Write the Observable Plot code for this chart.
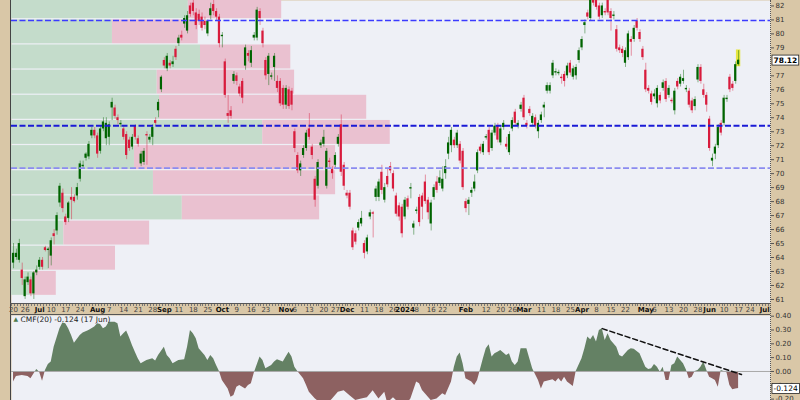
<!DOCTYPE html>
<html><head><meta charset="utf-8">
<script src="https://cdn.jsdelivr.net/npm/d3@7"></script>
<script src="https://cdn.jsdelivr.net/npm/@observablehq/plot@0.6"></script>
<style>
html,body{margin:0;padding:0;background:#fff;}
#chart{position:relative;width:800px;height:400px;background:#d9c7a7;overflow:hidden;font-family:"DejaVu Sans",sans-serif;}
#chart svg{position:absolute;left:0;overflow:visible;max-width:none;}
.deco{position:absolute;}
</style></head><body><div id="chart"></div>
<script>
// ---------- DATA ----------
const holidays = ["2023-07-04","2023-09-04","2023-11-23","2023-12-25","2024-01-01","2024-01-15","2024-02-19","2024-03-29","2024-05-27","2024-06-19","2024-07-04"];
const firstDay = "2023-06-20";
const lastCalendarDay = "2024-07-12";

const opens = [
63.6,64.0,63.8,63.1,61.2,62.2,62.4,61.4,62.9,63.3,
63.8,64.7,64.5,64.1,65.7,65.9,67.9,68.6,66.9,66.8,
68.3,68.3,68.4,69.6,70.5,71.1,71.2,72.7,73.1,72.7,
71.6,73.2,72.5,72.6,74.7,74.7,74.0,73.5,73.2,72.8,
72.4,71.9,73.4,72.5,70.7,70.8,72.8,72.4,72.6,73.8,
74.5,76.0,78.1,77.5,77.9,77.8,78.9,79.3,79.9,80.7,
80.2,82.0,82.2,81.5,81.4,81.2,80.9,80.0,81.3,82.1,
81.6,81.2,79.8,78.0,74.3,74.5,76.6,77.0,76.2,76.6,
77.7,78.6,77.9,79.7,79.7,81.6,80.2,78.1,77.1,76.9,
77.6,76.6,76.6,76.1,74.9,76.0,75.9,73.0,71.3,70.2,
71.3,71.8,73.2,71.9,69.6,69.1,72.0,72.1,69.1,70.9,
70.3,70.6,72.1,73.5,70.6,68.6,68.6,65.9,65.7,66.1,
66.4,65.0,64.4,66.9,67.2,68.3,68.3,70.1,68.1,69.8,
70.5,70.0,68.4,67.7,67.6,66.9,68.2,68.9,66.1,67.3,
68.3,68.4,69.4,68.1,66.4,68.3,69.4,69.3,68.9,70.0,
71.4,72.0,72.4,72.0,72.1,71.6,68.0,67.8,68.6,68.9,
70.2,71.9,71.5,72.55,73.1,71.8,72.9,73.4,72.2,73.3,
72.1,71.5,73.2,74.4,73.4,74.6,75.4,73.6,74.6,73.6,
74.0,73.0,73.8,74.7,75.9,75.9,77.0,77.2,77.15,76.9,
77.1,77.0,77.9,76.9,77.0,78.1,79.0,80.6,81.5,81.1,
82.4,82.4,82.0,81.3,81.6,82.4,81.6,81.25,80.3,79.0,
78.9,77.9,78.3,79.6,79.6,80.9,80.1,78.9,77.4,76.1,
75.7,75.5,75.0,75.6,76.1,76.6,75.6,75.25,74.5,76.6,
76.4,76.6,76.0,75.9,75.2,74.8,76.7,77.6,76.0,75.6,
73.9,70.9,71.4,72.0,73.6,73.6,75.3,76.9,76.4,76.6,77.8];

const highs = [
65.0,64.6,65.3,63.6,62.6,62.9,62.6,63.0,63.4,64.0,
64.0,64.8,64.7,65.4,66.0,67.2,69.3,68.9,67.1,68.0,
69.0,68.5,69.3,70.9,70.9,71.5,72.3,73.3,73.3,72.9,
73.4,74.0,74.0,73.7,75.4,74.9,74.2,73.8,73.4,73.0,
72.6,72.8,73.5,72.7,71.6,71.8,73.0,72.8,73.5,74.0,
75.3,77.0,78.3,78.6,78.1,78.4,79.1,79.9,80.2,81.3,
81.6,82.2,82.4,81.8,81.7,81.5,81.2,81.0,82.2,82.4,
81.8,81.4,80.1,78.2,75.6,74.8,77.3,77.2,76.4,76.8,
79.2,78.8,79.1,80.1,81.9,81.8,80.4,78.3,78.6,77.2,
78.6,77.0,76.8,76.3,76.3,76.2,76.1,73.2,71.5,70.9,
72.0,73.1,74.3,72.1,69.8,71.0,72.4,73.1,71.8,71.1,
70.5,71.5,72.8,74.2,70.8,68.8,68.8,66.1,65.9,66.7,
67.3,65.2,65.6,67.4,67.3,69.1,69.6,70.6,69.3,70.3,
70.8,70.2,68.6,67.9,67.8,68.3,68.4,69.3,66.6,67.6,
68.5,68.6,69.9,68.3,68.1,69.2,69.8,70.2,70.5,71.0,
72.6,73.3,72.6,73.1,72.3,71.8,68.2,68.3,69.0,69.9,
71.7,72.1,72.3,72.8,73.3,73.1,73.6,73.6,73.4,73.8,
72.6,73.0,74.0,74.6,73.8,75.1,75.6,73.8,74.8,74.3,
74.2,73.8,74.4,75.1,76.5,76.5,78.1,77.5,77.4,77.1,
77.3,77.9,78.1,77.7,77.8,79.0,79.8,81.0,81.7,82.5,
82.5,82.5,82.2,82.2,81.8,82.5,81.8,81.6,80.6,79.2,
79.1,79.0,80.2,79.8,80.6,81.1,80.3,79.1,77.9,76.3,
75.9,76.0,76.3,75.8,76.7,76.8,76.3,75.4,76.1,76.8,
77.1,77.4,76.3,76.1,75.4,75.5,77.8,77.8,76.4,75.8,
74.1,71.4,72.1,73.5,73.8,75.6,75.6,77.1,76.6,78.0,78.8];

const lows = [
63.2,63.8,63.6,62.0,61.0,62.0,61.2,61.0,62.7,63.1,
63.1,64.4,63.2,63.4,64.9,65.6,67.6,67.2,66.3,66.5,
66.7,67.9,68.1,69.4,70.3,70.9,71.0,72.5,72.5,71.1,
71.4,73.0,72.0,72.0,73.8,73.9,73.5,73.3,72.4,71.0,
71.6,71.7,72.4,71.9,70.5,70.6,70.6,72.2,72.0,73.4,
74.0,75.8,77.5,77.3,77.5,77.6,78.1,79.1,79.5,80.4,
80.0,81.2,81.3,80.3,80.6,80.2,80.3,79.8,81.0,81.3,
80.9,79.0,79.0,75.4,73.6,73.9,76.4,76.3,75.5,75.0,
77.4,78.0,77.6,79.5,79.5,80.6,79.0,76.7,76.3,76.7,
76.6,75.8,74.8,74.6,74.6,74.6,74.5,71.5,70.0,69.8,
71.1,71.6,72.4,71.0,67.6,68.9,71.8,71.9,68.9,70.4,
69.6,70.4,71.9,69.8,68.8,68.2,67.4,64.5,64.9,65.9,
66.2,63.9,64.2,66.7,65.4,68.0,68.0,68.5,67.9,69.0,
70.0,68.7,66.9,66.6,65.4,66.7,67.4,68.2,65.6,67.1,
66.2,66.7,67.8,66.7,65.9,68.1,68.6,69.1,68.7,69.6,
71.0,71.5,71.8,71.8,70.7,68.8,67.2,67.0,68.3,68.7,
70.0,71.4,71.3,72.4,71.3,71.6,72.7,72.2,72.0,73.1,
71.7,71.3,73.0,73.4,73.2,74.4,73.8,73.2,74.1,73.4,
73.2,72.5,73.6,74.0,75.7,75.7,76.8,77.0,77.0,76.4,
76.2,76.8,77.0,76.7,76.7,77.9,78.8,80.0,81.0,80.9,
82.0,81.7,81.0,81.1,81.3,81.3,80.2,81.0,78.7,78.6,
78.3,77.6,78.1,78.4,79.4,80.2,79.4,78.1,75.8,75.7,
74.9,75.3,74.7,75.0,75.9,75.1,75.4,75.0,74.2,76.0,
76.2,76.4,75.8,74.7,74.3,74.5,76.5,76.4,75.4,74.4,
71.6,70.5,71.0,71.8,72.7,73.4,75.1,75.8,75.9,76.4,77.7];

const closes = [
64.3,64.3,65.0,62.5,62.4,62.6,61.4,62.9,63.1,63.8,
63.3,64.5,64.6,65.2,65.5,67.0,69.1,67.5,66.5,67.9,
68.1,68.0,69.0,70.7,70.6,71.4,72.1,73.1,72.7,71.4,
73.2,73.7,73.6,73.5,75.1,74.1,73.8,73.6,72.6,71.3,
71.8,72.6,72.6,72.1,71.4,71.6,72.7,72.6,73.3,73.6,
75.1,76.9,77.7,78.4,77.7,78.0,78.3,79.7,79.7,81.1,
81.3,81.4,81.6,80.6,80.9,80.4,80.6,80.9,81.8,81.6,
81.2,79.3,79.9,75.6,74.1,74.1,77.1,76.6,75.7,75.4,
79.0,78.4,78.8,79.9,81.7,81.1,79.3,77.0,78.4,77.0,
78.4,76.1,75.0,74.9,76.1,74.8,74.9,71.8,70.2,70.7,
71.8,72.9,72.6,71.3,68.1,70.8,72.2,72.6,71.6,70.8,
70.0,71.3,72.6,70.1,69.1,68.4,67.6,64.7,65.1,66.5,
66.8,64.3,65.4,67.2,67.1,68.9,69.4,68.8,69.0,69.2,
70.2,68.9,67.1,66.9,65.7,68.1,67.6,69.0,66.4,67.4,
66.5,67.6,68.0,67.2,67.9,69.0,68.8,69.7,69.6,70.5,
72.2,73.1,72.0,72.9,70.9,69.0,67.5,68.1,68.8,69.4,
71.5,71.6,72.1,72.65,71.5,72.9,73.4,72.4,73.2,73.6,
71.9,72.8,73.8,73.6,73.6,74.9,74.0,73.4,74.3,74.1,
73.4,73.6,74.2,74.9,76.3,76.3,77.9,77.3,77.25,76.8,
76.6,77.7,77.2,77.5,77.6,78.8,79.6,80.8,81.2,82.4,
82.2,81.9,81.2,82.0,81.5,81.5,81.1,81.35,78.9,78.8,
78.6,78.8,80.0,79.4,80.4,80.4,79.6,78.3,76.0,75.9,
75.1,75.7,76.1,75.2,76.5,75.3,76.1,75.15,75.9,76.2,
76.9,76.8,76.1,74.9,74.5,75.3,77.6,76.6,75.6,74.9,
71.8,71.1,71.9,73.3,72.9,75.4,75.4,76.0,76.1,77.8,78.12];

// Volume-by-price zones (bottom to top), volumes in arbitrary units
const zoneEdges = [61.25,63.05,64.85,66.65,68.45,70.25,72.05,73.85,75.65,77.45,79.25,81.05,82.85];
const upVolume   = [2.9, 4.9, 6.9, 22.5, 18.7, 16.2, 33.1, 19.5, 19.2, 24.9, 13.3, 23.3];
const downVolume = [3.0, 8.8, 11.3, 18.1, 24.0, 26.5, 16.8, 27.3, 18.1, 11.9, 11.3, 12.3];

// horizontal support / resistance levels
const levelPrices = [80.96, 73.43, 70.39];
const levelColors = ["#3b3bff", "#1a1ad6", "#8b8bf0"];
const levelWidths = [1.3, 1.8, 1.8];

// price axis ticks
const priceTicks = [61,62,63,64,65,66,67,68,69,70,71,72,73,74,75,76,77,79,80,81,82];

// date axis
const tickDates = ["2023-06-20","2023-06-26","2023-07-03","2023-07-10","2023-07-17","2023-07-24","2023-08-01","2023-08-07","2023-08-14","2023-08-21","2023-08-28","2023-09-01","2023-09-11","2023-09-18","2023-09-25","2023-10-02","2023-10-09","2023-10-16","2023-10-23","2023-11-01","2023-11-06","2023-11-13","2023-11-20","2023-11-27","2023-12-01","2023-12-11","2023-12-18","2023-12-26","2024-01-02","2024-01-08","2024-01-16","2024-01-22","2024-02-01","2024-02-12","2024-02-20","2024-02-26","2024-03-01","2024-03-11","2024-03-18","2024-03-25","2024-04-01","2024-04-08","2024-04-15","2024-04-22","2024-05-01","2024-05-06","2024-05-13","2024-05-20","2024-05-28","2024-06-03","2024-06-10","2024-06-17","2024-06-24","2024-07-01"];
const tickLabels = ["20","26","Jul","10","17","24","Aug","7","14","21","28","Sep","11","18","25","Oct","9","16","23","Nov","6","13","20","27","Dec","11","18","26","2024","8","16","22","Feb","12","20","26","Mar","11","18","25","Apr","8","15","22","May","6","13","20","28","Jun","10","17","24","Jul"];

// CMF(20): trading-day index and value
const cmfDays = [0,1,3,5,6,8,9,10,11,12,13,14,16,17,18,19,20,21,23,24,26,28,29,30,31,32,33,35,36,37,38,39,40,41,42,43,44,46,48,49,50,52,53,54,55,57,59,60,61,62,63,64,66,67,68,69,70,71,72,74,75,76,77,78,80,81,82,83,85,86,87,89,90,91,93,94,95,96,97,98,100,101,102,104,106,108,110,112,114,116,118,120,122,124,126,128,129,131,133,135,137,139,140,141,144,146,148,149,151,152,153,154,155,156,158,159,160,162,163,164,165,166,167,168,170,171,172,173,174,175,177,178,179,181,182,183,185,186,187,188,189,190,191,193,194,196,197,198,199,200,201,202,203,204,205,206,208,209,210,211,212,213,214,216,217,218,219,220,221,222,223,224,225,226,227,228,229,231,232,233,234,235,236,237,238,239,240,241,242,243,244,245,246,247,248,249,250];
const cmfValues = [-0.077,-0.036,-0.029,-0.036,-0.053,0.014,-0.005,-0.07,0.007,0.05,0.068,0.176,0.309,0.35,0.345,0.309,0.261,0.205,0.261,0.278,0.297,0.321,0.345,0.34,0.309,0.321,0.357,0.357,0.345,0.249,0.273,0.292,0.244,0.188,0.14,0.092,0.056,0.08,0.092,0.075,0.116,0.176,0.116,0.092,0.056,0.08,0.085,0.176,0.297,0.273,0.237,0.164,0.116,0.08,0.116,0.092,0.043,0,-0.065,-0.126,-0.186,-0.174,-0.114,-0.101,-0.126,-0.101,-0.089,-0.012,0.104,0.08,0.019,0.043,0.068,0.085,0.068,0.104,0.14,0.104,0.031,0,-0.053,-0.1,-0.15,-0.198,-0.23,-0.24,-0.2,-0.15,-0.14,-0.175,-0.21,-0.2,-0.19,-0.14,-0.2,-0.15,-0.23,-0.19,-0.23,-0.25,-0.2,-0.077,-0.089,-0.138,-0.21,-0.2,-0.162,-0.174,-0.077,0.031,0.104,0.133,0.056,-0.053,-0.077,-0.101,-0.065,0.092,0.164,0.193,0.104,0.128,0.14,0.152,0.116,0.128,0.068,0.043,0.068,0.164,0.164,0.092,0.019,-0.065,-0.126,-0.077,-0.065,-0.06,-0.077,-0.05,-0.077,-0.041,-0.077,-0.109,0,0.092,0.164,0.249,0.23,0.261,0.213,0.297,0.309,0.225,0.273,0.225,0.176,0.116,0.104,0.128,0.152,0.164,0.16,0.128,0.08,0.031,0.014,0.019,0.05,0.031,-0.005,0.031,-0.065,-0.065,0.043,0.056,0.104,0.056,0.01,-0.053,-0.041,0,0.007,0.031,0.068,0.01,-0.041,-0.053,-0.065,-0.114,0.007,0,-0.01,-0.101,-0.133,-0.126,-0.124];
const cmfTicks = [0.4,0.3,0.2,0.1,0,-0.1,-0.2];
const trendDays = [203, 251];
const trendValues = [0.31, -0.022];
const cmfTitle = "CMF(20) -0.124 (17 Jun)";

// ---------- BUILD ----------
const tradingDays = [];
for (let d = new Date(firstDay + "T12:00:00Z"); d <= new Date(lastCalendarDay + "T12:00:00Z"); d.setUTCDate(d.getUTCDate() + 1)) {
  const wd = d.getUTCDay(), s = d.toISOString().slice(0, 10);
  if (wd === 0 || wd === 6 || holidays.includes(s)) continue;
  tradingDays.push(s);
}
const dayIndex = s => tradingDays.indexOf(s);

const upColor = "#006400", downColor = "#d81b3c";
const candles = opens.map((o, i) => ({i, o, h: highs[i], l: lows[i], c: closes[i], up: closes[i] >= o}));
const last = candles[candles.length - 1];
const zones = upVolume.map((u, k) => ({lo: zoneEdges[k], hi: zoneEdges[k + 1], up: u, down: downVolume[k]}));
const ticks = tickDates.map((d, k) => ({i: dayIndex(d), label: tickLabels[k], bold: !/^\d{1,2}$/.test(tickLabels[k])}));

const yDom = [60.71, 82.39];
const xDom = [-0.7, 261];
const font = "DejaVu Sans, sans-serif";
const chart = document.getElementById("chart");
const lastPriceText = last.c.toFixed(2);
const lastCmfText = cmfValues[cmfValues.length - 1].toFixed(3);

const vbp = Plot.plot({
  width: 800, height: 303, marginLeft: 11, marginRight: 30, marginTop: 0, marginBottom: 0,
  style: {background: "transparent", overflow: "visible"},
  x: {domain: [0, 100], axis: null},
  y: {domain: yDom, axis: null},
  marks: [
    Plot.frame({fill: "#eef0f6", stroke: null}),
    Plot.rect(zones, {x1: 0, x2: "up", y1: "lo", y2: "hi", fill: "#c4dccb", insetTop: 0.6, insetBottom: 0.6, clip: true}),
    Plot.rect(zones, {x1: "up", x2: d => d.up + d.down, y1: "lo", y2: "hi", fill: "#eac1d0", insetTop: 0.6, insetBottom: 0.6, clip: true})
  ]
});
vbp.style.top = "0px";
chart.appendChild(vbp);

const bodyY1 = d => Math.abs(d.c - d.o) < 0.08 ? (d.o + d.c) / 2 - 0.04 : Math.min(d.o, d.c);
const bodyY2 = d => Math.abs(d.c - d.o) < 0.08 ? (d.o + d.c) / 2 + 0.04 : Math.max(d.o, d.c);

const price = Plot.plot({
  width: 800, height: 315, marginLeft: 11, marginRight: 30, marginTop: 0, marginBottom: 12,
  style: {background: "transparent", overflow: "visible", fontFamily: font},
  x: {domain: xDom, axis: null},
  y: {domain: yDom, axis: null},
  color: {type: "identity"},
  marks: [
    Plot.rect([last], {x1: d => d.i - 0.75, x2: d => d.i + 0.75, y1: d => d.l - 0.05, y2: d => d.h + 0.05, fill: "#e6e640"}),
    Plot.ruleX(candles, {x: "i", y1: "l", y2: "h", stroke: d => d.up ? upColor : downColor, strokeOpacity: 0.45, strokeWidth: 1}),
    Plot.rect(candles, {x1: d => d.i - 0.38, x2: d => d.i + 0.38, y1: bodyY1, y2: bodyY2, fill: d => d.up ? upColor : downColor}),
    ...levelPrices.map((p, k) => Plot.ruleY([p], {stroke: levelColors[k], strokeWidth: levelWidths[k], strokeDasharray: "6,2.5"})),
    Plot.axisY({anchor: "right", ticks: priceTicks, tickSize: 3, tickPadding: 2, fontSize: 7, label: null, fill: "#333", stroke: "#555"}),
    Plot.text([last], {y: "c", frameAnchor: "right", dx: 3, textAnchor: "start", text: () => lastPriceText, fontSize: 7.5, fontWeight: "bold", fill: "#000"}),
    Plot.text(ticks.filter(t => !t.bold), {x: "i", text: "label", frameAnchor: "bottom", dy: 6.5, fontSize: 7, fill: "#444", lineAnchor: "middle"}),
    Plot.text(ticks.filter(t => t.bold), {x: "i", text: "label", frameAnchor: "bottom", dy: 6.5, fontSize: 7, fill: "#111", fontWeight: "bold", lineAnchor: "middle"})
  ]
});
price.style.top = "0px";
chart.appendChild(price);

// CMF with zero-crossing points for clean fills
const cmfPts = cmfDays.map((d, k) => ({i: d, v: cmfValues[k]}));
const cmfLine = [];
cmfPts.forEach((p, k) => {
  if (k > 0) {
    const q = cmfPts[k - 1];
    if ((q.v < 0 && p.v > 0) || (q.v > 0 && p.v < 0)) {
      const t = q.v / (q.v - p.v);
      cmfLine.push({i: q.i + t * (p.i - q.i), v: 0});
    }
  }
  cmfLine.push(p);
});
const trend = trendDays.map((d, k) => ({i: d, v: trendValues[k]}));

const cmf = Plot.plot({
  width: 800, height: 85, marginLeft: 11, marginRight: 30, marginTop: 0, marginBottom: 0,
  style: {background: "transparent", overflow: "visible", fontFamily: font},
  x: {domain: xDom, axis: null},
  y: {domain: [-0.21, 0.405], axis: null},
  marks: [
    Plot.frame({fill: "#eef0f6", stroke: null}),
    Plot.areaY(cmfLine, {x: "i", y1: 0, y2: d => Math.max(0, d.v), fill: "#648164", clip: true}),
    Plot.areaY(cmfLine, {x: "i", y1: 0, y2: d => Math.min(0, d.v), fill: "#8d6161", clip: true}),
    Plot.ruleY([0], {stroke: "#a8a8a8"}),
    Plot.line(trend, {x: "i", y: "v", stroke: "#111", strokeWidth: 1.5, strokeDasharray: "5,3"}),
    Plot.axisY({anchor: "right", ticks: cmfTicks, tickFormat: d => d.toFixed(2), tickSize: 3, tickPadding: 2, fontSize: 7, label: null, fill: "#333", stroke: "#555"}),
    Plot.text([cmfValues[cmfValues.length - 1]], {y: d => d, frameAnchor: "right", dx: 3, textAnchor: "start", text: () => lastCmfText, fontSize: 7.5, fill: "#000"}),
    Plot.text(["▲"], {frameAnchor: "top-left", dx: 2, dy: 1.5, text: d => d, fontSize: 6, fill: "#4c7a4c", textAnchor: "start", lineAnchor: "top"}),
    Plot.text([cmfTitle], {frameAnchor: "top-left", dx: 9, dy: 1, text: d => d, fontSize: 7.5, fill: "#222", textAnchor: "start", lineAnchor: "top"})
  ]
});
cmf.style.top = "315px";
chart.appendChild(cmf);

// white boxes behind last-value labels
function boxify(svg, label) {
  svg.querySelectorAll("text").forEach(t => {
    if (t.textContent.trim() !== label) return;
    const b = t.getBBox();
    const r = document.createElementNS("http://www.w3.org/2000/svg", "rect");
    r.setAttribute("x", b.x - 1.5); r.setAttribute("y", b.y - 0.5);
    r.setAttribute("width", b.width + 3); r.setAttribute("height", b.height + 1);
    r.setAttribute("fill", "#fff"); r.setAttribute("stroke", "#222"); r.setAttribute("stroke-width", "0.8");
    const tr = t.getAttribute("transform");
    if (tr) r.setAttribute("transform", tr);
    t.parentNode.insertBefore(r, t);
  });
}
boxify(price, lastPriceText); boxify(cmf, lastCmfText);

// frame decorations
function deco(css) { const d = document.createElement("div"); d.className = "deco"; Object.assign(d.style, css); chart.appendChild(d); }
deco({left: "10px", top: "0px", width: "1px", height: "400px", background: "#444"});
deco({left: "10px", top: "303px", width: "760px", height: "1px", background: "#555"});
deco({left: "11px", top: "304px", width: "759px", height: "2px", background: "repeating-linear-gradient(90deg, #777 0 1px, transparent 1px 2.9px)"});
deco({left: "10px", top: "314px", width: "760px", height: "1px", background: "#555"});
deco({left: "770px", top: "0px", width: "0px", height: "400px", borderLeft: "1px dotted #555"});
</script></body></html>
